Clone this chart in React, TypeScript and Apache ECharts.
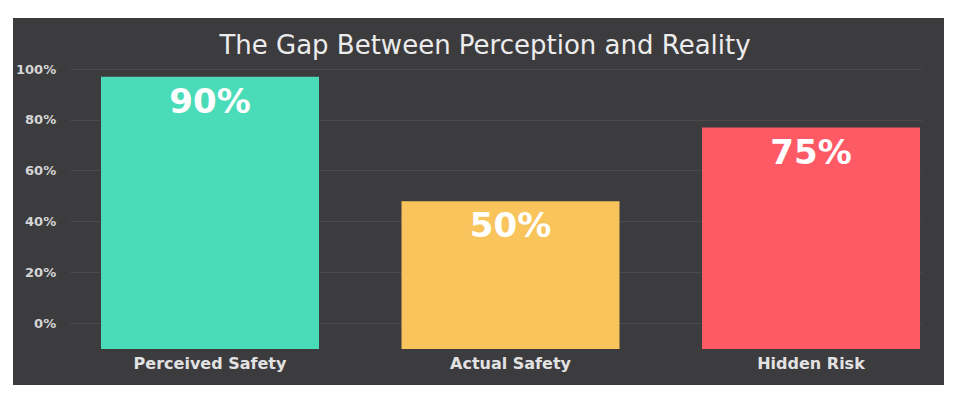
import React, { useEffect, useRef } from "react";
import * as echarts from "echarts";

const categories = ["Perceived Safety", "Actual Safety", "Hidden Risk"];
const barValues = [97, 48, 77];
const barLabels = ["90%", "50%", "75%"];
const barColors = ["#4adbb8", "#f8c45b", "#fd5a66"];
const yTicks = [0, 20, 40, 60, 80, 100];

export default function App() {
  const ref = useRef<HTMLDivElement>(null);
  useEffect(() => {
    if (!ref.current) return;
    const chart = echarts.init(ref.current, undefined, { renderer: "svg" });
    const font = "DejaVu Sans";
    chart.setOption({
      animation: false,
      backgroundColor: "#3c3b3e",
      title: {
        text: "The Gap Between Perception and Reality",
        left: 467,
        top: 9,
        textAlign: "center",
        textStyle: { color: "#ececec", fontSize: 26, fontWeight: "normal", fontFamily: font },
      },
      grid: [
        { left: 57, right: 22, top: 51, bottom: 62 },
        { left: 197, right: 133, top: 51, bottom: 36 },
      ],
      xAxis: [
        { type: "category", gridIndex: 0, data: categories, show: false },
        {
          type: "category",
          gridIndex: 1,
          data: categories,
          boundaryGap: false,
          axisLine: { show: false },
          axisTick: { show: false },
          axisLabel: { color: "#e2e2e2", fontSize: 16, fontWeight: "bold", fontFamily: font, margin: 6 },
        },
      ],
      yAxis: [
        {
          type: "value",
          gridIndex: 0,
          min: yTicks[0],
          max: yTicks[yTicks.length - 1],
          interval: 20,
          axisLine: { show: false },
          axisTick: { show: false },
          axisLabel: {
            color: "#d6d6d6",
            fontSize: 13,
            fontWeight: "bold",
            fontFamily: font,
            margin: 14,
            formatter: (v: number) => v + "%",
          },
          splitLine: { lineStyle: { color: "#4a494c", width: 1 } },
        },
        {
          type: "value",
          gridIndex: 1,
          min: -10,
          max: 100,
          startValue: -10,
          show: false,
          splitLine: { show: false },
        },
      ],
      series: [
        {
          type: "bar",
          xAxisIndex: 1,
          yAxisIndex: 1,
          barWidth: 218,
          data: barValues.map((v, i) => ({ value: v, itemStyle: { color: barColors[i] } })),
          label: {
            show: true,
            position: "insideTop",
            distance: 7,
            color: "#ffffff",
            fontSize: 34,
            fontWeight: "bold",
            fontFamily: font,
            formatter: (p: any) => barLabels[p.dataIndex],
          },
        },
      ],
    });
    return () => chart.dispose();
  }, []);
  return (
    <div style={{ position: "fixed", left: 0, top: 0, width: 953, height: 394, background: "#ffffff" }}>
      <div ref={ref} style={{ position: "absolute", left: 13, top: 18, width: 931, height: 367 }} />
    </div>
  );
}
